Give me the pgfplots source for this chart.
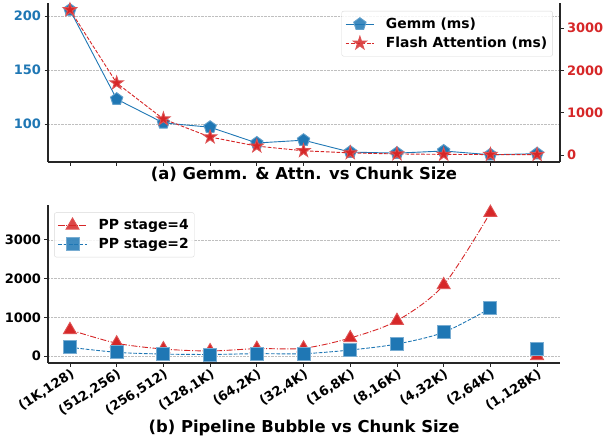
\documentclass[border=0pt]{standalone}
\usepackage{pgfplots}
\pgfplotsset{compat=1.18}
\usepackage{fontspec}
\setmainfont{DejaVu Sans}
\usetikzlibrary{plotmarks}
\definecolor{tabblue}{HTML}{1F77B4}
\definecolor{tabred}{HTML}{D62728}
\definecolor{spine}{HTML}{262626}
\pgfdeclareplotmark{fstar}{%
 \pgfpathmoveto{\pgfpointpolar{90}{\pgfplotmarksize}}%
 \pgfpathlineto{\pgfpointpolar{126}{0.382*\pgfplotmarksize}}%
 \pgfpathlineto{\pgfpointpolar{162}{\pgfplotmarksize}}%
 \pgfpathlineto{\pgfpointpolar{198}{0.382*\pgfplotmarksize}}%
 \pgfpathlineto{\pgfpointpolar{234}{\pgfplotmarksize}}%
 \pgfpathlineto{\pgfpointpolar{270}{0.382*\pgfplotmarksize}}%
 \pgfpathlineto{\pgfpointpolar{306}{\pgfplotmarksize}}%
 \pgfpathlineto{\pgfpointpolar{342}{0.382*\pgfplotmarksize}}%
 \pgfpathlineto{\pgfpointpolar{18}{\pgfplotmarksize}}%
 \pgfpathlineto{\pgfpointpolar{54}{0.382*\pgfplotmarksize}}%
 \pgfpathclose
 \pgfusepathqfillstroke
}
\newcommand{\tickfont}{\fontsize{13}{15}\selectfont\bfseries}
\newcommand{\legfont}{\fontsize{13.9}{16}\selectfont\bfseries}
\newcommand{\titfont}{\fontsize{16.4}{18}\selectfont\bfseries}
\pgfplotsset{
  common/.style={
    scale only axis, width=512pt,
    xmin=-0.47, xmax=10.49,
    xtick={0,...,10},
    tick align=outside,
    major tick length=3.5pt,
    tick style={spine, line width=0.8pt},
    axis line style={spine, line width=1.1pt},
    /pgf/number format/assume math mode=true,
    /pgf/number format/1000 sep={},
    ticklabel style={font=\tickfont},
    grid style={densely dotted, gray!50, line width=0.6pt},
    legend cell align=left,
    legend style={font=\legfont, draw=gray!30, rounded corners=2pt, fill=white, fill opacity=0.85, text opacity=1, inner xsep=3.5pt, inner ysep=5pt, row sep=3pt},
    legend image code/.code={\draw[mark repeat=2,mark phase=2] plot coordinates {(0cm,0cm) (0.5cm,0cm) (1cm,0cm)}; \path (1.33cm,0cm);},
  },
  gemm/.style={tabblue, solid, line width=0.9pt, mark=pentagon*, mark size=6.5pt, mark options={solid, fill=tabblue, draw=tabblue!70}},
  flash/.style={tabred, dash pattern=on 3.7pt off 1.6pt, line width=0.9pt, mark=fstar, mark size=7pt, mark options={solid, fill=tabred, draw=tabred!80}},
  pp4/.style={tabred, dash pattern=on 6pt off 1.8pt on 1pt off 1.8pt, line width=0.9pt, mark=triangle*, mark size=7.5pt, mark options={solid, fill=tabred, draw=tabred!80}},
  pp2/.style={tabblue, dash pattern=on 3.7pt off 1.6pt, line width=0.9pt, mark=square*, mark size=6.5pt, mark options={solid, fill=tabblue, draw=tabblue!60}},
}
\begin{document}
\begin{tikzpicture}
\useasboundingbox (0,0) rectangle (610pt,-439pt);
% ---- top: left axis (Gemm)
\begin{axis}[common, at={(48pt,-162pt)}, anchor=south west, height=159pt,
  ymin=64.8, ymax=212,
  axis x line*=bottom, axis y line*=left,
  xticklabels={},
  ytick={100,150,200},
  ymajorgrids,
  yticklabel style={text=tabblue},
  xlabel={\titfont (a) Gemm. \& Attn. vs Chunk Size},
  xlabel style={at={(axis description cs:0.5,0)}, anchor=north, inner sep=0pt, yshift=-5pt},
]
\addplot[gemm] coordinates {(0,205.5) (1,123) (2,101) (3,97) (4,82.4) (5,85) (6,74) (7,73) (8,75) (9,71.5) (10,72.5)};
\end{axis}
% ---- top: right axis (Flash Attention)
\begin{axis}[common, at={(48pt,-162pt)}, anchor=south west, height=159pt,
  ymin=-165, ymax=3590,
  axis x line=none, axis y line*=right,
  ytick={0,1000,2000,3000},
  yticklabel style={text=tabred},
  legend style={at={(0.986,0.950)}, anchor=north east},
]
\addlegendimage{gemm}
\addlegendentry{Gemm (ms)}
\addplot[flash] coordinates {(0,3428) (1,1700) (2,850) (3,425) (4,210) (5,100) (6,50) (7,25) (8,15) (9,10) (10,10)};
\addlegendentry{Flash Attention (ms)}
\end{axis}
% ---- bottom: pipeline bubble
\begin{axis}[common, at={(48pt,-363pt)}, anchor=south west, height=158pt,
  ymin=-181, ymax=3900,
  axis x line*=bottom, axis y line*=left,
  ytick={0,1000,2000,3000},
  ymajorgrids,
  xticklabels={{(1K,128)},{(512,256)},{(256,512)},{(128,1K)},{(64,2K)},{(32,4K)},{(16,8K)},{(8,16K)},{(4,32K)},{(2,64K)},{(1,128K)}},
  xticklabel style={rotate=33, anchor=north east, inner sep=1pt},
  xlabel={\titfont (b) Pipeline Bubble vs Chunk Size},
  xlabel style={at={(axis description cs:0.5,0)}, anchor=north, inner sep=0pt, yshift=-57pt},
  legend style={at={(0.012,0.953)}, anchor=north west},
]
\addplot[pp4, smooth] coordinates {(0,675) (1,330) (2,180) (3,130) (4,190) (5,200) (6,465) (7,912) (8,1835) (9,3703)};
\addlegendentry{PP stage=4}
\addplot[pp2, smooth] coordinates {(0,225) (1,95) (2,50) (3,40) (4,60) (5,60) (6,155) (7,310) (8,612) (9,1232)};
\addlegendentry{PP stage=2}
\addplot[pp4, only marks, forget plot] coordinates {(10,0)};
\addplot[pp2, only marks, forget plot] coordinates {(10,180)};
\end{axis}
\end{tikzpicture}
\end{document}
